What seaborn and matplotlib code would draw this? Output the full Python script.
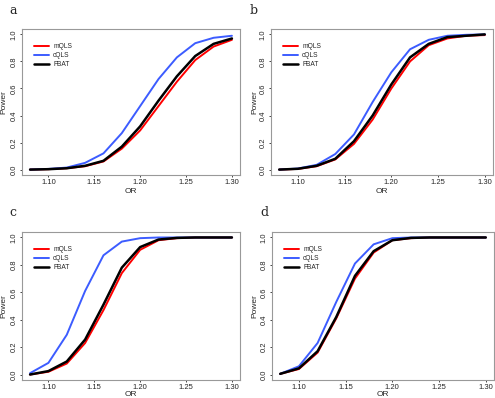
import numpy as np
import pandas as pd
import seaborn as sns
import matplotlib.pyplot as plt

odds_ratio = [1.08, 1.10, 1.12, 1.14, 1.16, 1.18, 1.20, 1.22, 1.24, 1.26, 1.28, 1.30]

# power curves per panel
a_mqls = [0.0, 0.003, 0.01, 0.025, 0.06, 0.155, 0.29, 0.47, 0.65, 0.81, 0.91, 0.96]
a_cqls = [0.0, 0.005, 0.015, 0.05, 0.12, 0.27, 0.47, 0.67, 0.83, 0.935, 0.975, 0.99]
a_fbat = [0.0, 0.003, 0.01, 0.028, 0.065, 0.17, 0.32, 0.51, 0.69, 0.84, 0.93, 0.97]

b_mqls = [0.0, 0.005, 0.025, 0.075, 0.19, 0.37, 0.60, 0.80, 0.92, 0.97, 0.99, 0.995]
b_cqls = [0.0, 0.008, 0.035, 0.115, 0.26, 0.50, 0.72, 0.89, 0.96, 0.99, 0.997, 1.0]
b_fbat = [0.0, 0.006, 0.028, 0.08, 0.21, 0.40, 0.63, 0.83, 0.93, 0.98, 0.99, 1.0]

c_mqls = [0.0, 0.02, 0.08, 0.23, 0.47, 0.74, 0.91, 0.98, 0.995, 1.0, 1.0, 1.0]
c_cqls = [0.01, 0.085, 0.29, 0.61, 0.87, 0.97, 0.995, 1.0, 1.0, 1.0, 1.0, 1.0]
c_fbat = [0.0, 0.025, 0.095, 0.255, 0.51, 0.78, 0.93, 0.985, 0.997, 1.0, 1.0, 1.0]

d_mqls = [0.005, 0.04, 0.16, 0.41, 0.70, 0.89, 0.98, 0.995, 1.0, 1.0, 1.0, 1.0]
d_cqls = [0.005, 0.06, 0.23, 0.53, 0.81, 0.95, 0.995, 1.0, 1.0, 1.0, 1.0, 1.0]
d_fbat = [0.005, 0.045, 0.17, 0.42, 0.72, 0.90, 0.98, 0.997, 1.0, 1.0, 1.0, 1.0]

panels = {
    "a": (a_mqls, a_cqls, a_fbat),
    "b": (b_mqls, b_cqls, b_fbat),
    "c": (c_mqls, c_cqls, c_fbat),
    "d": (d_mqls, d_cqls, d_fbat),
}
methods = ["mQLS", "cQLS", "FBAT"]
colors = {"mQLS": "#ff0000", "cQLS": "#3c5cff", "FBAT": "#000000"}
widths = {"mQLS": 1.4, "cQLS": 1.4, "FBAT": 1.8}

sns.set_style("white")
plt.rcParams['font.family'] = ['Liberation Sans', 'DejaVu Sans']

W, H = 495, 398
fig = plt.figure(figsize=(W / 100, H / 100), dpi=100)

# pixel boxes: left, right, top, bottom
boxes = {
    "a": (22, 240, 29, 175),
    "b": (271, 493, 29, 175),
    "c": (22, 240, 232, 380),
    "d": (272, 494, 232, 380),
}
label_pos = {"a": (9, 14), "b": (250, 14), "c": (9, 216), "d": (260, 216)}
ylabel_x = {"a": 4, "b": 255, "c": 4, "d": 255}
xlabel_y = {"a": 192, "b": 192, "c": 394, "d": 394}

for key, curves in panels.items():
    l, r, t, b = boxes[key]
    ax = fig.add_axes([l / W, 1 - b / H, (r - l) / W, (b - t) / H])
    rows = []
    for m, vals in zip(methods, curves):
        for x, y in zip(odds_ratio, vals):
            rows.append({"OR": x, "Power": y, "method": m})
    df = pd.DataFrame(rows)
    for m in methods:
        sns.lineplot(data=df[df.method == m], x="OR", y="Power", color=colors[m],
                     lw=widths[m], label=m, ax=ax)
    ax.set_xlim(1.0712, 1.3088)
    ax.set_ylim(-0.04, 1.04)
    ax.set_xticks([1.10, 1.15, 1.20, 1.25, 1.30])
    ax.set_xticklabels(["1.10", "1.15", "1.20", "1.25", "1.30"])
    ax.set_yticks([0.0, 0.2, 0.4, 0.6, 0.8, 1.0])
    ax.set_yticklabels(["0.0", "0.2", "0.4", "0.6", "0.8", "1.0"], rotation=90, va="center")
    ax.tick_params(axis="both", labelsize=5.5, length=1.5, width=0.6, direction="out",
                   bottom=True, left=True, pad=1.5)
    ax.set_xlabel("OR", fontsize=6)
    ax.set_ylabel("Power", fontsize=6)
    ax.xaxis.set_label_coords(0.5, -(xlabel_y[key] - b) / (b - t), transform=ax.transAxes)
    ax.xaxis.label.set_va("center")
    ax.yaxis.set_label_coords((ylabel_x[key] - l) / (r - l), 0.5, transform=ax.transAxes)
    ax.yaxis.label.set_ha("center")
    ax.yaxis.label.set_va("center")
    for s in ax.spines.values():
        s.set_color("#999999")
        s.set_linewidth(0.8)
    leg = ax.legend(loc="upper left", frameon=False, fontsize=4.8, handlelength=2.2,
                    handletextpad=0.6, labelspacing=0.3, borderaxespad=0.8,
                    bbox_to_anchor=(0.02, 0.96))
    lx, ly = label_pos[key]
    fig.text(lx / W, 1 - ly / H, key, family="DejaVu Serif", fontsize=9)

plt.savefig("out.png", dpi=100)
